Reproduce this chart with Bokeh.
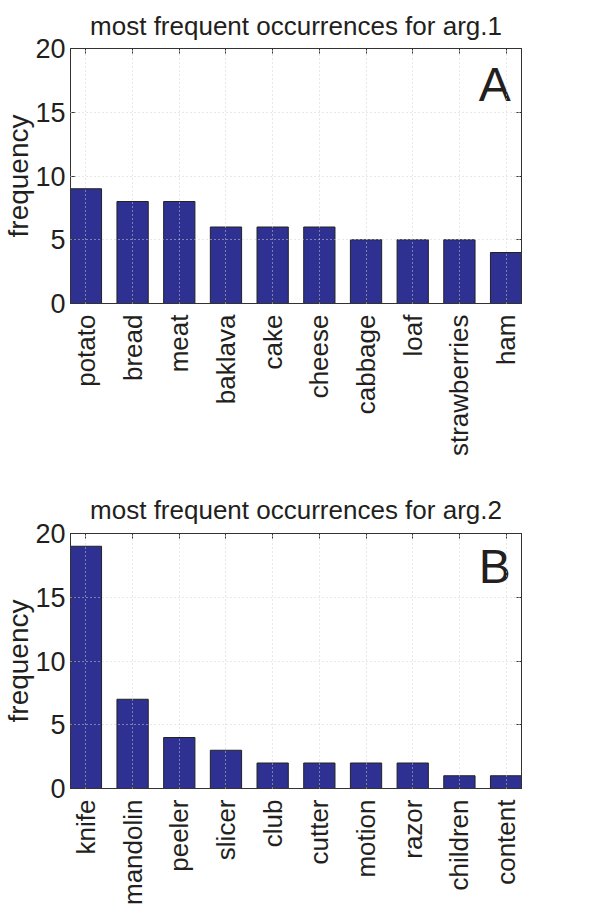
import math
from bokeh.plotting import figure
from bokeh.models import (Range1d, FixedTicker, LinearAxis, Label, ColumnDataSource,
                          CustomJSTickFormatter)
from bokeh.layouts import column
from bokeh.embed import file_html
from bokeh.resources import INLINE

# ---- data ----
cats_a = ["potato", "bread", "meat", "baklava", "cake", "cheese",
          "cabbage", "loaf", "strawberries", "ham"]
vals_a = [9, 8, 8, 6, 6, 6, 5, 5, 5, 4]
cats_b = ["knife", "mandolin", "peeler", "slicer", "club", "cutter",
          "motion", "razor", "children", "content"]
vals_b = [19, 7, 4, 3, 2, 2, 2, 2, 1, 1]
y_ticks = [0, 5, 10, 15, 20]
titles = ["most frequent occurrences for arg.1",
          "most frequent occurrences for arg.2"]
letters = ["A", "B"]
y_label = "frequency"

FONT = "Liberation Sans"
TEXT = "#231f20"
BAR = "#2e3192"
AXIS = "#333333"


def make(cats, vals, title, letter, letter_y, top_border, bottom_border, title_standoff):
    n = len(cats)
    xs = list(range(1, n + 1))
    src = ColumnDataSource(dict(x=xs, top=vals, cat=cats))
    p = figure(frame_width=451, frame_height=255,
               x_range=Range1d(0.67, n + 0.33), y_range=Range1d(0, 20),
               output_backend="svg", toolbar_location=None,
               min_border_left=62, min_border_right=79, min_border_top=top_border,
               min_border_bottom=bottom_border, title=title)
    p.title.text_font = FONT
    p.title.text_font_size = "26px"
    p.title.text_font_style = "normal"
    p.title.text_color = TEXT
    p.title.align = "center"
    p.title.standoff = title_standoff

    p.vbar(x="x", top="top", width=0.67, bottom=0, source=src,
           fill_color=BAR, line_color="#222222", line_width=1)

    p.outline_line_color = AXIS
    p.background_fill_color = "white"

    # axes
    for ax in [p.xaxis[0], p.yaxis[0]]:
        ax.axis_line_color = AXIS
        ax.major_tick_line_color = AXIS
        ax.major_tick_in = 5
        ax.major_tick_out = 0
        ax.minor_tick_line_color = None
        ax.major_label_text_font = FONT
        ax.major_label_text_color = TEXT
    p.xaxis.ticker = FixedTicker(ticks=xs)
    p.xaxis.major_label_overrides = {x: c for x, c in zip(xs, cats)}
    p.xaxis.major_label_orientation = math.pi / 2
    p.xaxis.major_label_text_font_size = "26px"
    p.xaxis.major_label_standoff = 11
    p.yaxis.ticker = FixedTicker(ticks=y_ticks)
    p.yaxis.major_label_text_font_size = "27px"
    p.yaxis.major_label_standoff = 5
    p.yaxis.axis_label = y_label
    p.yaxis.axis_label_text_font = FONT
    p.yaxis.axis_label_text_font_size = "28px"
    p.yaxis.axis_label_text_font_style = "normal"
    p.yaxis.axis_label_text_color = TEXT
    p.yaxis.axis_label_standoff = -2

    blank = CustomJSTickFormatter(code="return ''")
    top_ax = LinearAxis(ticker=FixedTicker(ticks=xs), major_tick_in=5,
                        major_tick_out=0, formatter=blank,
                        major_label_standoff=0, axis_line_color=AXIS,
                        major_tick_line_color=AXIS, minor_tick_line_color=None)
    right_ax = LinearAxis(ticker=FixedTicker(ticks=y_ticks), major_tick_in=5,
                          major_tick_out=0, formatter=blank,
                          major_label_standoff=0, axis_line_color=AXIS,
                          major_tick_line_color=AXIS, minor_tick_line_color=None)
    p.add_layout(top_ax, "above")
    p.add_layout(right_ax, "right")

    # grid
    for g in [p.xgrid[0], p.ygrid[0]]:
        g.grid_line_color = "#d0d0d0"
        g.grid_line_dash = "1 3"
        g.grid_line_width = 1
        g.level = "overlay"
    p.xgrid.ticker = FixedTicker(ticks=xs)
    p.ygrid.ticker = FixedTicker(ticks=y_ticks[1:-1])

    p.add_layout(Label(x=n + 0.1, y=letter_y, text=letter, text_align="right",
                       text_baseline="alphabetic", text_font=FONT,
                       text_font_size="48px", text_color=TEXT))
    return p


p1 = make(cats_a, vals_a, titles[0], letters[0], 17.2, 48, 180, 16)
p2 = make(cats_b, vals_b, titles[1], letters[1], 17.4, 48, 114, 18)
layout = column(p1, p2, spacing=0)

open("out.html", "w").write(file_html(layout, INLINE))
